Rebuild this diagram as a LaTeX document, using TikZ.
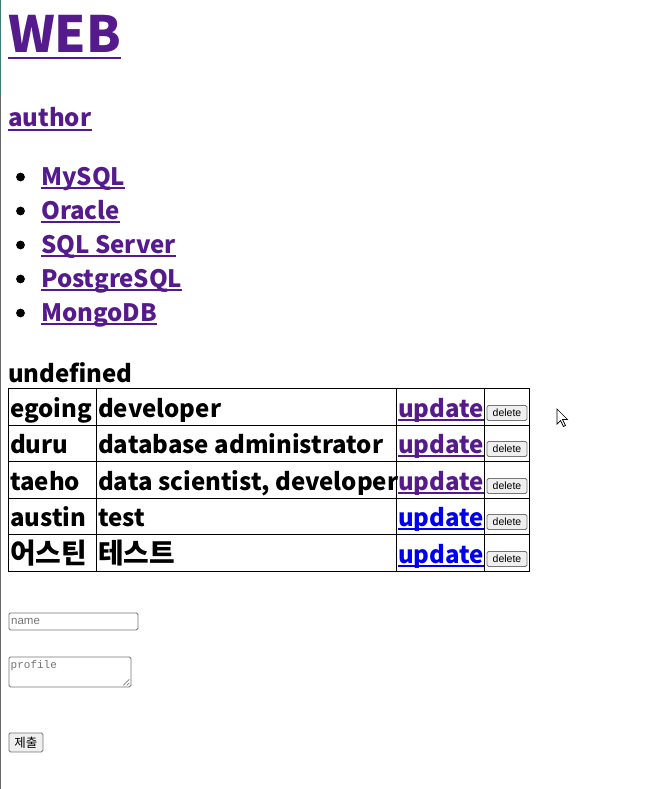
\documentclass[tikz,border=0pt]{standalone}
\usepackage{fontspec}
\setmainfont{Noto Sans CJK KR}
\newfontfamily\arialf{Liberation Sans}
\newfontfamily\monof{Liberation Mono}
\definecolor{visited}{HTML}{551A8B}
\definecolor{linkblue}{HTML}{0000EE}
\definecolor{btnfill}{HTML}{EFEFEF}
\definecolor{btnline}{HTML}{767676}
\definecolor{phgray}{HTML}{757575}
\definecolor{edgeteal}{HTML}{3F7F73}
\begin{document}
\begin{tikzpicture}[x=1pt,y=-1pt,
  txt/.style={inner sep=0pt, anchor=base west, font=\fontsize{24}{28}\selectfont\bfseries},
  lnk/.style={txt, text=visited},
  btn/.style={draw=btnline, fill=btnfill, rounded corners=1.5pt, line width=0.8pt},
  btntext/.style={inner sep=0pt, font=\arialf\fontsize{10.5}{12}\selectfont, text=black},
  cell/.style={draw=black, line width=0.9pt}
]
\useasboundingbox (0,0) rectangle (659,789);
\fill[white] (0,0) rectangle (659,789);
% left window edge
\draw[edgeteal, line width=1.2pt] (0.6,0) -- (0.6,95);
\draw[gray!80!black, line width=1.2pt] (0.6,95) -- (0.6,789);

% headings
\node[lnk, font=\fontsize{50}{56}\selectfont\bfseries] (web) at (8,53) {WEB};
\draw[visited, line width=2.6pt] ([yshift=-5pt]web.base west) -- ([yshift=-5pt]web.base east);
\node[lnk] (author) at (8,127) {author};
\draw[visited, line width=1.4pt] ([yshift=-3pt]author.base west) -- ([yshift=-3pt]author.base east);

% list
\foreach \t/\y/\n in {MySQL/185/l1, Oracle/219/l2, SQL Server/253/l3, PostgreSQL/287/l4, MongoDB/321/l5}{
  \fill[black] (20.5,\y-8) circle (4.4);
  \node[lnk] (\n) at (41,\y) {\t};
  \draw[visited, line width=1.4pt] ([yshift=-3pt]\n.base west) -- ([yshift=-3pt]\n.base east);
}

\node[txt] (undef) at (8,382) {undefined};

% table grid
\foreach \ya/\yb in {388/425,425/461,461/498,498/534,534/571}{
  \draw[cell] (8.5,\ya) rectangle (96.5,\yb);
  \draw[cell] (96.5,\ya) rectangle (396.5,\yb);
  \draw[cell] (396.5,\ya) rectangle (484.5,\yb);
  \draw[cell] (484.5,\ya) rectangle (529.5,\yb);
}

% table rows
\foreach \name/\prof/\y/\col/\k in {egoing/developer/417/visited/r1, duru/database administrator/453/visited/r2, taeho/{data scientist, developer}/490/visited/r3, austin/test/526/linkblue/r4}{
  \node[txt] (\k n) at (10,\y) {\name};
  \node[txt] (\k p) at (98,\y) {\prof};
  \node[txt, text=\col] (\k u) at (398,\y) {update};
  \draw[\col, line width=1.4pt] ([yshift=-3pt]\k u.base west) -- ([yshift=-3pt]\k u.base east);
  \node[btn, minimum width=40pt, minimum height=15pt, inner sep=0pt] (\k b) at (507,\y-4) {};
  \node[btntext] at (\k b.center) {delete};
}
\node[txt] (r5n) at (10,563) {\scalebox{1.16}{어스틴}};
\node[txt] (r5p) at (98,563) {\scalebox{1.16}{테스트}};
\node[txt, text=linkblue] (r5u) at (398,563) {update};
\draw[linkblue, line width=1.4pt] ([yshift=-3pt]r5u.base west) -- ([yshift=-3pt]r5u.base east);
\node[btn, minimum width=40pt, minimum height=15pt, inner sep=0pt] (r5b) at (507,559) {};
\node[btntext] at (r5b.center) {delete};

% form
\node[draw=btnline, line width=0.8pt, rounded corners=1.5pt, minimum width=129pt, minimum height=17pt, inner sep=0pt, anchor=north west] (namebox) at (8.5,612.5) {};
\node[inner sep=0pt, anchor=west, text=phgray, font=\arialf\fontsize{11.5}{13}\selectfont] (nameph) at ([xshift=2.5pt]namebox.west) {name};

\node[draw=btnline, line width=0.8pt, rounded corners=1.5pt, minimum width=122pt, minimum height=30pt, inner sep=0pt, anchor=north west] (profbox) at (8.5,656.5) {};
\node[inner sep=0pt, anchor=base west, text=phgray, font=\monof\fontsize{11}{13}\selectfont] (profph) at (10.5,668) {profile};
\draw[gray, line width=0.6pt] ([xshift=-2pt,yshift=8pt]profbox.south east) -- ([xshift=-8pt,yshift=2pt]profbox.south east);
\draw[gray, line width=0.6pt] ([xshift=-2pt,yshift=4.5pt]profbox.south east) -- ([xshift=-4.5pt,yshift=2pt]profbox.south east);

\node[btn, minimum width=34pt, minimum height=19pt, inner sep=0pt, anchor=north west] (submit) at (8.5,732.5) {};
\node[inner sep=0pt, font=\fontsize{12.5}{14}\selectfont] at (submit.center) {제출};

% mouse cursor
\draw[black, fill=white, line width=0.7pt, line join=miter]
  (557,409) -- (557,424) -- (560.5,420.5) -- (563.5,426.5) -- (565.5,425.5) -- (562.5,419.5) -- (567.5,419.5) -- cycle;
\end{tikzpicture}
\end{document}
